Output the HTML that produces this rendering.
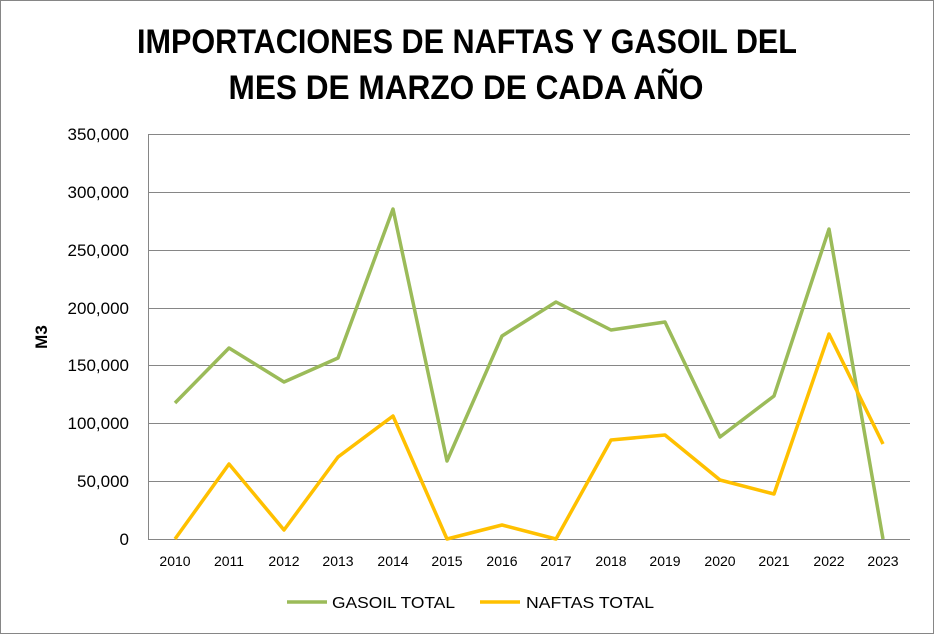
<!DOCTYPE html>
<html><head><meta charset="utf-8"><style>
html,body{margin:0;padding:0;background:#fff;}
svg{display:block;}
text{font-family:"Liberation Sans",sans-serif;fill:#000;}
</style></head><body>
<svg width="934" height="634" viewBox="0 0 934 634" xmlns="http://www.w3.org/2000/svg">
<rect x="0.5" y="0.5" width="933" height="633" fill="#fff" stroke="#868686"/>
<text x="467" y="53" text-anchor="middle" font-size="34" font-weight="bold" textLength="660" lengthAdjust="spacingAndGlyphs">IMPORTACIONES DE NAFTAS Y GASOIL DEL</text>
<text x="466" y="99" text-anchor="middle" font-size="34" font-weight="bold" textLength="475" lengthAdjust="spacingAndGlyphs">MES DE MARZO DE CADA AÑO</text>
<g stroke="#868686" stroke-width="1">
<line x1="148" y1="134.5" x2="910" y2="134.5"/>
<line x1="148" y1="192.5" x2="910" y2="192.5"/>
<line x1="148" y1="250.5" x2="910" y2="250.5"/>
<line x1="148" y1="308.5" x2="910" y2="308.5"/>
<line x1="148" y1="365.5" x2="910" y2="365.5"/>
<line x1="148" y1="423.5" x2="910" y2="423.5"/>
<line x1="148" y1="481.5" x2="910" y2="481.5"/>
<line x1="148" y1="539.5" x2="910" y2="539.5"/>
<line x1="148.5" y1="134" x2="148.5" y2="539"/>
</g>
<g font-size="17" text-anchor="end">
<text x="129" y="140">350,000</text>
<text x="129" y="198">300,000</text>
<text x="129" y="256">250,000</text>
<text x="129" y="314">200,000</text>
<text x="129" y="371">150,000</text>
<text x="129" y="429">100,000</text>
<text x="129" y="487">50,000</text>
<text x="129" y="545">0</text>
</g>
<text transform="translate(47,337) rotate(-90)" text-anchor="middle" font-size="17" font-weight="bold">M3</text>
<g font-size="14" text-anchor="middle">
<text x="175" y="566">2010</text><text x="229" y="566">2011</text><text x="284" y="566">2012</text><text x="338" y="566">2013</text><text x="393" y="566">2014</text><text x="447" y="566">2015</text><text x="502" y="566">2016</text><text x="556" y="566">2017</text><text x="611" y="566">2018</text><text x="665" y="566">2019</text><text x="720" y="566">2020</text><text x="774" y="566">2021</text><text x="829" y="566">2022</text><text x="883" y="566">2023</text>
</g>
<polyline fill="none" stroke="#9BBB59" stroke-width="3.5" stroke-linejoin="round" points="175,403 229,348 284,382 338,358 393,209 447,461 502,336 556,302 611,330 665,322 720,437 774,396 829,229 883,539"/>
<polyline fill="none" stroke="#FFC000" stroke-width="3.5" stroke-linejoin="round" points="175,539 229,464 284,530 338,457 393,416 447,539 502,525 556,539 611,440 665,435 720,480 774,494 829,334 883,444"/>
<line x1="287" y1="602" x2="327" y2="602" stroke="#9BBB59" stroke-width="3.5"/>
<text x="332" y="608" font-size="16" textLength="123" lengthAdjust="spacingAndGlyphs">GASOIL TOTAL</text>
<line x1="480" y1="602" x2="520" y2="602" stroke="#FFC000" stroke-width="3.5"/>
<text x="526" y="608" font-size="16" textLength="128" lengthAdjust="spacingAndGlyphs">NAFTAS TOTAL</text>
</svg>
</body></html>
